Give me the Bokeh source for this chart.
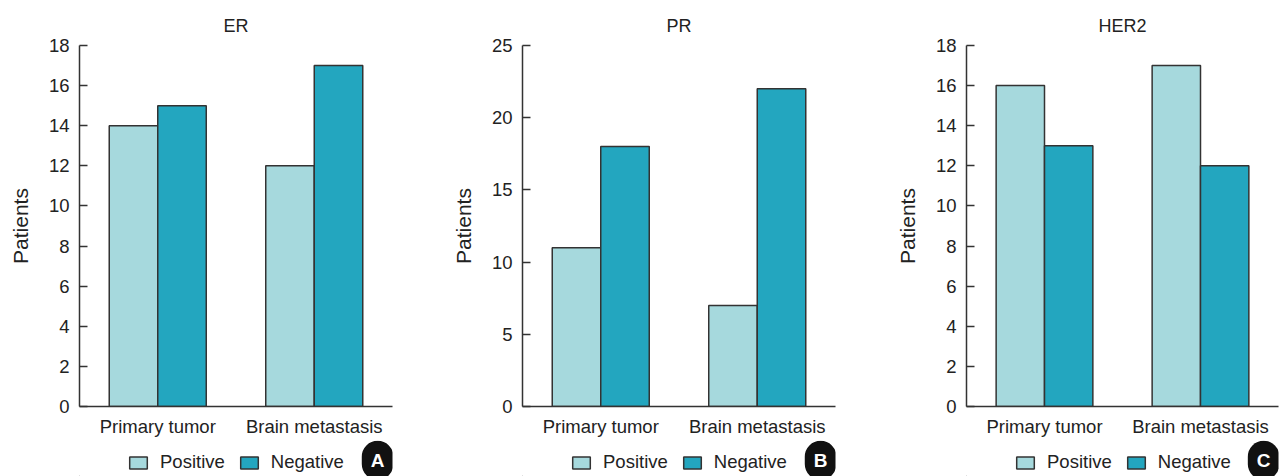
from bokeh.plotting import figure
from bokeh.layouts import row, column
from bokeh.models import (FactorRange, Range1d, Legend, LegendItem, Label,
                          ColumnDataSource, FixedTicker)
from bokeh.transform import dodge
from bokeh.embed import file_html
from bokeh.resources import INLINE

# ---- data ----
categories = ["Primary tumor", "Brain metastasis"]
series_names = ["Positive", "Negative"]
er_positive = [14, 12]
er_negative = [15, 17]
pr_positive = [11, 7]
pr_negative = [18, 22]
her2_positive = [16, 17]
her2_negative = [13, 12]
panel_titles = ["ER", "PR", "HER2"]
panel_letters = ["A", "B", "C"]
y_max = [18, 25, 18]
y_step = [2, 5, 2]

# ---- style ----
FONT = "Liberation Sans"
POS_COLOR = "#a6d9dd"
NEG_COLOR = "#23a6bf"
EDGE = "#333333"
TEXT = "#222222"
H_CHART = 440
H_LEG = 36
TOP = 45
BOTTOM = 34


def chart(title, pos, neg, ymax, step, width, bl, br):
    p = figure(x_range=FactorRange(factors=categories), y_range=Range1d(0, ymax),
               width=width, height=H_CHART, output_backend="svg", toolbar_location=None,
               min_border_left=bl, min_border_right=br,
               min_border_top=TOP, min_border_bottom=BOTTOM)
    src = ColumnDataSource(dict(cat=categories, pos=pos, neg=neg))
    p.vbar(x=dodge("cat", -0.155, range=p.x_range), top="pos", width=0.31,
           source=src, fill_color=POS_COLOR, line_color=EDGE, line_width=1.5)
    p.vbar(x=dodge("cat", 0.155, range=p.x_range), top="neg", width=0.31,
           source=src, fill_color=NEG_COLOR, line_color=EDGE, line_width=1.5)

    p.title.text = title
    p.title.align = "center"
    p.title.text_font = FONT
    p.title.text_font_size = "18px"
    p.title.text_font_style = "normal"
    p.title.text_color = TEXT
    p.title.standoff = 19

    p.xgrid.visible = False
    p.ygrid.visible = False
    p.outline_line_color = None

    for ax in (p.xaxis, p.yaxis):
        ax.axis_line_color = EDGE
        ax.axis_line_width = 1.5
        ax.major_tick_line_color = EDGE
        ax.major_tick_line_width = 1.5
        ax.minor_tick_in = 0
        ax.minor_tick_out = 0
        ax.major_label_text_font = FONT
        ax.major_label_text_font_size = "18.5px"
        ax.major_label_text_color = TEXT

    p.xaxis.major_tick_in = 0
    p.xaxis.major_tick_out = 0
    p.xaxis.major_label_standoff = 9

    p.yaxis.ticker = FixedTicker(ticks=list(range(0, ymax + 1, step)))
    p.yaxis.major_tick_in = 8
    p.yaxis.major_tick_out = 0
    p.yaxis.major_label_standoff = 10
    p.yaxis.axis_label = "Patients"
    p.yaxis.axis_label_text_font = FONT
    p.yaxis.axis_label_text_font_size = "21px"
    p.yaxis.axis_label_text_font_style = "normal"
    p.yaxis.axis_label_text_color = TEXT
    p.yaxis.axis_label_standoff = 14
    return p


def legend_strip(width, bl, br, letter):
    q = figure(x_range=Range1d(0, 2), y_range=Range1d(0, 1),
               width=width, height=H_LEG, output_backend="svg", toolbar_location=None,
               x_axis_location=None, y_axis_location=None,
               min_border_left=bl, min_border_right=br,
               min_border_top=0, min_border_bottom=0)
    q.xgrid.visible = False
    q.ygrid.visible = False
    q.outline_line_color = None
    # legend proxies: zero-size bars far outside the visible range
    proxy = ColumnDataSource(dict(x=[-1000.0], top=[-1000.0], bottom=[-1000.0]))
    r1 = q.vbar(x="x", top="top", bottom="bottom", width=0.0, source=proxy,
                fill_color=POS_COLOR, line_color=EDGE, line_width=1.5)
    r2 = q.vbar(x="x", top="top", bottom="bottom", width=0.0, source=proxy,
                fill_color=NEG_COLOR, line_color=EDGE, line_width=1.5)
    legend = Legend(items=[LegendItem(label=series_names[0], renderers=[r1]),
                           LegendItem(label=series_names[1], renderers=[r2])],
                    orientation="horizontal", location=(48, 3),
                    glyph_width=22, glyph_height=15, label_standoff=11, spacing=13,
                    padding=0, margin=0, border_line_color=None,
                    background_fill_alpha=0,
                    label_text_font=FONT, label_text_font_size="18.5px",
                    label_text_color=TEXT)
    q.add_layout(legend, "center")
    badge = Label(x=1.905, y=0.45, text=letter, text_align="center",
                  text_baseline="middle", text_color="white",
                  text_font=FONT, text_font_style="bold", text_font_size="19px",
                  background_fill_color="#111111", border_radius=16,
                  padding=9)
    q.add_layout(badge)
    return q


specs = [
    (panel_titles[0], er_positive, er_negative, y_max[0], y_step[0], 448, 79, 56, panel_letters[0]),
    (panel_titles[1], pr_positive, pr_negative, y_max[1], y_step[1], 440, 74, 53, panel_letters[1]),
    (panel_titles[2], her2_positive, her2_negative, y_max[2], y_step[2], 394, 78, 4, panel_letters[2]),
]
cols = []
for t, pos, neg, ym, st, w, bl, br, letter in specs:
    cols.append(column(chart(t, pos, neg, ym, st, w, bl, br),
                       legend_strip(w, bl, br, letter), spacing=0))

layout = row(*cols, spacing=0)
open("out.html", "w").write(file_html(layout, INLINE))
